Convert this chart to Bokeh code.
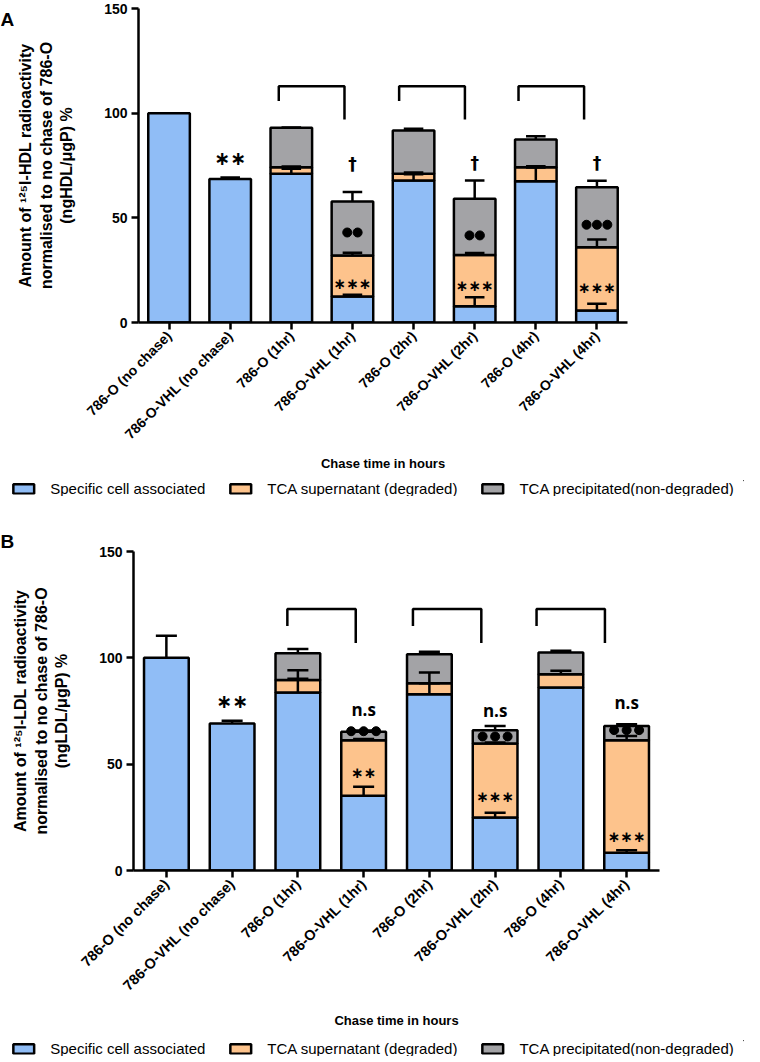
import math
from bokeh.plotting import figure
from bokeh.layouts import column, row
from bokeh.models import Legend, LegendItem, FixedTicker, Range1d
from bokeh.core.properties import value
from bokeh.embed import file_html
from bokeh.resources import INLINE

categories = ["786-O (no chase)", "786-O-VHL (no chase)", "786-O (1hr)", "786-O-VHL (1hr)",
              "786-O (2hr)", "786-O-VHL (2hr)", "786-O (4hr)", "786-O-VHL (4hr)"]
series_names = ["Specific cell associated", "TCA supernatant (degraded)", "TCA precipitated(non-degraded)"]

# ---- Panel A (125I-HDL) ----
a_cell = [100, 68.6, 71.0, 12.4, 67.8, 7.8, 67.5, 5.7]
a_super = [0, 0, 3.2, 19.6, 3.2, 24.5, 6.7, 30.3]
a_precip = [0, 0, 18.8, 25.8, 20.7, 26.8, 13.2, 28.6]
a_cell_err = [0, 0.7, 2.4, 0.8, 3.0, 4.3, 6.5, 3.2]
a_super_err = [0, 0, 0.3, 1.3, 0.7, 0.9, 0.4, 3.7]
a_precip_err = [0, 0, 0.2, 4.5, 0.8, 8.7, 1.6, 3.1]
a_top_star_x = [1]
a_top_star_y = [78.4]
a_top_star_text = ["∗∗"]
a_in_star_x = [3, 5, 7]
a_in_star_y = [18.6, 17.2, 16.6]
a_in_star_text = ["∗∗∗", "∗∗∗", "∗∗∗"]
a_mark_x = [3, 5, 7]
a_mark_y = [75.5, 76.4, 76.4]
a_mark_text = ["†", "†", "†"]
a_dots_x = [3, 5, 7]
a_dots_n = [2, 2, 3]
a_dots_y = [43.0, 41.6, 46.7]
a_brackets = [(1.795, 2.87), (3.764, 4.84), (5.717, 6.79)]
a_bracket_y = (105.8, 112.8, 97.0)

# ---- Panel B (125I-LDL) ----
b_cell = [100, 69.1, 83.7, 35.1, 82.9, 24.9, 86.0, 8.4]
b_super = [0, 0, 5.9, 26.2, 5.2, 34.8, 6.3, 52.9]
b_precip = [0, 0, 12.6, 3.9, 13.6, 6.3, 10.2, 6.7]
b_cell_err = [10.4, 1.3, 6.5, 4.3, 5.2, 2.3, 0, 1.1]
b_super_err = [0, 0, 4.6, 0.5, 5.0, 0.5, 1.6, 2.0]
b_precip_err = [0, 0, 1.9, 0.6, 1.2, 2.0, 0.8, 0.8]
b_top_star_x = [1]
b_top_star_y = [79.8]
b_top_star_text = ["∗∗"]
b_in_star_x = [3, 5, 7]
b_in_star_y = [45.7, 34.7, 15.8]
b_in_star_text = ["∗∗", "∗∗∗", "∗∗∗"]
b_mark_x = [3, 5, 7]
b_mark_y = [75.9, 75.4, 79.0]
b_mark_text = ["n.s", "n.s", "n.s"]
b_dots_x = [3, 5, 7]
b_dots_n = [3, 3, 3]
b_dots_y = [65.5, 63.0, 66.0]
b_brackets = [(1.84, 2.88), (3.75, 4.79), (5.63, 6.67)]
b_bracket_y = (115.0, 123.0, 107.0)

COLORS = ["#90BDF6", "#FDC38C", "#A3A3A6"]
FONT = "Liberation Sans"
LW = 2.5
TAG_W = 14
TOTAL_W = 744


def make_panel(ylab, cell, sup, pre, errs, top_star, in_star, marks, mark_font, dots,
               brackets, br_y, w, h, border_left, frame_w, border_top, frame_h, dot_gap,
               xlab_font, xlab_standoff):
    p = figure(width=w, height=h, x_range=Range1d(-0.5, 7.5), y_range=Range1d(0, 150),
               output_backend="svg", toolbar_location=None,
               min_border_left=border_left, min_border_right=w - border_left - frame_w,
               min_border_top=border_top, min_border_bottom=h - border_top - frame_h)
    p.grid.visible = False
    p.outline_line_color = None

    xs = list(range(len(categories)))
    bottoms = [0] * len(xs)
    tops_all = []
    for vals, col in zip([cell, sup, pre], COLORS):
        idx = [i for i in xs if vals[i] > 0]
        p.vbar(x=[xs[i] for i in idx], width=0.68, bottom=[bottoms[i] for i in idx],
               top=[bottoms[i] + vals[i] for i in idx],
               fill_color=col, line_color="black", line_width=LW)
        bottoms = [bottoms[i] + vals[i] for i in xs]
        tops_all.append(list(bottoms))

    # error bars (upward only)
    ex0, ey0, ey1 = [], [], []
    for layer, err in enumerate(errs):
        for i in xs:
            if err[i] > 0:
                ex0.append(xs[i])
                ey0.append(tops_all[layer][i])
                ey1.append(tops_all[layer][i] + err[i])
    p.segment(x0=ex0, y0=ey0, x1=ex0, y1=ey1, line_color="black", line_width=LW)
    cw = 0.16
    p.segment(x0=[x - cw for x in ex0], y0=ey1, x1=[x + cw for x in ex0], y1=ey1,
              line_color="black", line_width=LW)

    # comparison brackets
    lb, tp, rb = br_y
    p.multi_line(xs=[[l, l, r, r] for l, r in brackets],
                 ys=[[lb, tp, tp, rb] for _ in brackets], line_color="black", line_width=LW)

    # significance marks
    tx, ty, tt = top_star
    p.text(x=tx, y=ty, text=tt, text_font=value("DejaVu Sans"), text_font_size=value("19px"),
           text_font_style="bold", text_align="center", text_baseline="middle", text_color="black")
    ix, iy, it = in_star
    p.text(x=ix, y=iy, text=it, text_font=value("DejaVu Sans"), text_font_size=value("15px"),
           text_font_style="bold", text_align="center", text_baseline="middle", text_color="black")
    mx, my, mt = marks
    p.text(x=mx, y=my, text=mt, text_font=value(mark_font[0]), text_font_size=value(mark_font[1]),
           text_font_style="bold", text_align="center", text_baseline="middle", text_color="black")

    dx, dn, dy = dots
    px, py = [], []
    for x, n, y in zip(dx, dn, dy):
        for k in range(n):
            px.append(x + (k - (n - 1) / 2) * dot_gap)
            py.append(y)
    p.scatter(x=px, y=py, marker="circle", size=9, fill_color="black", line_color="black")

    # axes
    for ax in (p.xaxis[0], p.yaxis[0]):
        ax.axis_line_width = LW
        ax.axis_line_color = "black"
        ax.major_tick_line_width = LW
        ax.major_tick_line_color = "black"
        ax.major_tick_out = 7
        ax.major_tick_in = 0
        ax.minor_tick_line_color = None
        ax.major_label_text_font = FONT
        ax.major_label_text_font_style = "bold"
        ax.major_label_text_color = "black"
        ax.axis_label_text_font = FONT
        ax.axis_label_text_font_style = "bold"
        ax.axis_label_text_color = "black"
    p.xaxis.ticker = FixedTicker(ticks=xs)
    p.xaxis.major_label_overrides = {i: c for i, c in enumerate(categories)}
    p.xaxis.major_label_orientation = math.pi / 4
    p.xaxis.major_label_text_font_size = xlab_font
    p.xaxis.major_label_standoff = 4
    p.xaxis.axis_label = "Chase time in hours"
    p.xaxis.axis_label_text_font_size = "13px"
    p.xaxis.axis_label_standoff = xlab_standoff
    p.yaxis.ticker = FixedTicker(ticks=[0, 50, 100, 150])
    p.yaxis.major_label_text_font_size = "14px"
    p.yaxis.major_label_standoff = 4
    p.yaxis.axis_label = ylab
    p.yaxis.axis_label_text_font_size = "16px"
    p.yaxis.axis_label_standoff = 26
    return p


def make_tag(tag, h):
    t = figure(width=TAG_W, height=h, x_range=Range1d(0, TAG_W), y_range=Range1d(0, h),
               x_axis_type=None, y_axis_type=None, output_backend="svg", toolbar_location=None,
               min_border=0, outline_line_color=None)
    t.grid.visible = False
    t.text(x=[0], y=[h], text=[tag], text_font=value(FONT), text_font_size=value("19px"),
           text_font_style="bold", text_align="left", text_baseline="top", text_color="black")
    return t


def make_legend(h):
    lf = figure(width=TOTAL_W, height=h, x_range=Range1d(0, 1), y_range=Range1d(0, 1),
                x_axis_type=None, y_axis_type=None, output_backend="svg", toolbar_location=None,
                min_border=0, outline_line_color=None)
    lf.grid.visible = False
    rends = [lf.vbar(x=[5], width=0.1, bottom=[5], top=[6], fill_color=c, line_color="black",
                     line_width=LW) for c in COLORS]
    legend = Legend(items=[LegendItem(label=n, renderers=[r]) for n, r in zip(series_names, rends)],
                    orientation="horizontal", location="center",
                    label_text_font=FONT, label_text_font_size="15px", label_text_color="black",
                    glyph_width=26, glyph_height=12, label_standoff=14, spacing=22,
                    padding=0, margin=0, border_line_alpha=0, background_fill_alpha=0)
    lf.add_layout(legend, "center")
    return lf


# panel A: top border 8, frame 314, bottom axis area 158
HA = 8 + 314 + 158
pa = make_panel("Amount of ¹²⁵I-HDL radioactivity\nnormalised to no chase of 786-O\n(ngHDL/μgP) %",
                a_cell, a_super, a_precip, (a_cell_err, a_super_err, a_precip_err),
                (a_top_star_x, a_top_star_y, a_top_star_text),
                (a_in_star_x, a_in_star_y, a_in_star_text),
                (a_mark_x, a_mark_y, a_mark_text), ("DejaVu Sans", "17px"),
                (a_dots_x, a_dots_n, a_dots_y), a_brackets, a_bracket_y,
                w=TOTAL_W - TAG_W, h=HA, border_left=118 - TAG_W, frame_w=509, border_top=8,
                frame_h=314, dot_gap=0.17, xlab_font="14px", xlab_standoff=5)

# panel B: top border 55, frame 319, bottom axis area 170
HB = 55 + 319 + 170
pb = make_panel("Amount of ¹²⁵I-LDL radioactivity\nnormalised to no chase of 786-O\n(ngLDL/μgP) %",
                b_cell, b_super, b_precip, (b_cell_err, b_super_err, b_precip_err),
                (b_top_star_x, b_top_star_y, b_top_star_text),
                (b_in_star_x, b_in_star_y, b_in_star_text),
                (b_mark_x, b_mark_y, b_mark_text), ("Open Sans", "17px"),
                (b_dots_x, b_dots_n, b_dots_y), b_brackets, b_bracket_y,
                w=TOTAL_W, h=HB, border_left=133, frame_w=526, border_top=55,
                frame_h=319, dot_gap=0.19, xlab_font="14.5px", xlab_standoff=11)
pb.title.text = "B"
pb.title.align = "left"
pb.title.offset = -133
pb.title.standoff = 0
pb.title.text_font = FONT
pb.title.text_font_size = "19px"
pb.title.text_font_style = "bold"
pb.title.text_color = "black"

layout = column(row(make_tag("A", HA), pa), make_legend(16), row(pb), make_legend(16))
open("out.html", "w").write(file_html(layout, INLINE))
